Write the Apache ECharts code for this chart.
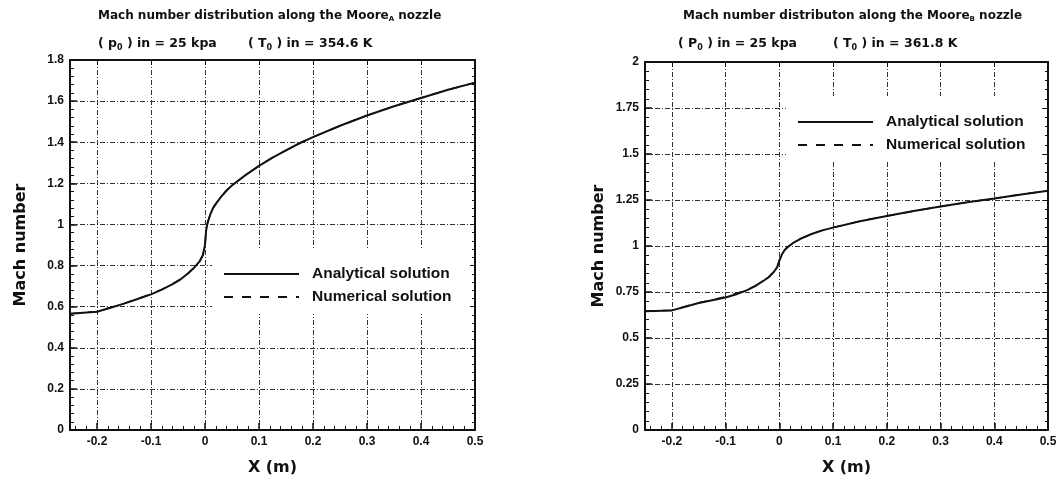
<!DOCTYPE html>
<html>
<head>
<meta charset="utf-8">
<script src="https://cdn.jsdelivr.net/npm/echarts@6/dist/echarts.min.js"></script>
<style>
  html, body { margin: 0; padding: 0; background: #fff; }
  #chart { width: 1061px; height: 481px; }
</style>
</head>
<body>
<div id="chart"></div>
<script>
// Moore A nozzle
const xA = [-0.25, -0.2, -0.175, -0.15, -0.125, -0.1, -0.08, -0.06, -0.045, -0.03, -0.02, -0.01, -0.004, 0, 0.002, 0.005, 0.01, 0.015, 0.02, 0.03, 0.04, 0.05, 0.06, 0.075, 0.1, 0.125, 0.15, 0.175, 0.2, 0.25, 0.3, 0.35, 0.4, 0.45, 0.5];
const machA = [0.565, 0.575, 0.595, 0.615, 0.637, 0.66, 0.683, 0.71, 0.733, 0.765, 0.79, 0.82, 0.85, 0.9, 0.97, 1.01, 1.05, 1.08, 1.1, 1.135, 1.165, 1.19, 1.21, 1.24, 1.285, 1.325, 1.36, 1.395, 1.425, 1.48, 1.53, 1.575, 1.615, 1.655, 1.69];
const machANum = [0.565, 0.576, 0.596, 0.616, 0.638, 0.661, 0.684, 0.711, 0.734, 0.766, 0.791, 0.821, 0.851, 0.9, 0.97, 1.01, 1.05, 1.08, 1.1, 1.135, 1.165, 1.19, 1.21, 1.24, 1.285, 1.325, 1.36, 1.395, 1.425, 1.48, 1.53, 1.575, 1.615, 1.655, 1.69];

// Moore B nozzle
const xB = [-0.25, -0.2, -0.175, -0.15, -0.125, -0.1, -0.08, -0.06, -0.045, -0.03, -0.02, -0.01, -0.004, 0, 0.005, 0.01, 0.015, 0.025, 0.04, 0.06, 0.08, 0.1, 0.15, 0.2, 0.25, 0.3, 0.35, 0.4, 0.45, 0.5];
const machB = [0.645, 0.65, 0.67, 0.69, 0.705, 0.72, 0.738, 0.76, 0.782, 0.81, 0.83, 0.86, 0.885, 0.92, 0.955, 0.978, 0.993, 1.015, 1.04, 1.065, 1.085, 1.1, 1.135, 1.163, 1.19, 1.215, 1.238, 1.258, 1.28, 1.3];
const machBNum = [0.645, 0.651, 0.672, 0.692, 0.708, 0.724, 0.742, 0.762, 0.783, 0.81, 0.83, 0.86, 0.885, 0.92, 0.955, 0.978, 0.993, 1.015, 1.04, 1.065, 1.085, 1.1, 1.135, 1.163, 1.19, 1.215, 1.238, 1.258, 1.28, 1.3];

// tick labels / positions
const majorX = [-0.2, -0.1, 0, 0.1, 0.2, 0.3, 0.4, 0.5];
const minorX = [-0.24, -0.22, -0.18, -0.16, -0.14, -0.12, -0.08, -0.06, -0.04, -0.02,
  0.02, 0.04, 0.06, 0.08, 0.12, 0.14, 0.16, 0.18, 0.22, 0.24, 0.26, 0.28,
  0.32, 0.34, 0.36, 0.38, 0.42, 0.44, 0.46, 0.48];

const font = '"Liberation Sans", Arial, sans-serif';
const wide = '"DejaVu Sans", sans-serif';
const black = '#111';
const gridLine = { color: '#333', width: 1, type: [5, 2, 1, 2] };

const pairs = (xs, ys) => xs.map((x, i) => [x, ys[i]]);

function xAxes(gridIndex) {
  return [
    {
      gridIndex, type: 'value', position: 'bottom', min: -0.25, max: 0.5,
      name: 'X (m)', nameLocation: 'middle', nameGap: 30,
      nameTextStyle: { fontFamily: wide, fontWeight: 'bold', fontSize: 16, color: black },
      axisLine: { onZero: false, lineStyle: { color: black, width: 2 } },
      axisTick: { inside: true, length: 7, customValues: majorX, lineStyle: { color: black, width: 1.5 } },
      axisLabel: {
        customValues: majorX, margin: 6, color: black,
        fontFamily: font, fontWeight: 'bold', fontSize: 12,
        formatter: v => String(Math.round(v * 10) / 10)
      },
      splitLine: { show: true, lineStyle: gridLine }
    },
    {
      gridIndex, type: 'value', position: 'bottom', min: -0.25, max: 0.5,
      axisLine: { show: false, onZero: false },
      axisTick: { inside: true, length: 4, customValues: minorX, lineStyle: { color: black, width: 1 } },
      axisLabel: { show: false },
      splitLine: { show: false }
    },
    {
      gridIndex, type: 'value', position: 'top', min: -0.25, max: 0.5,
      axisLine: { onZero: false, lineStyle: { color: black, width: 2 } },
      axisTick: { inside: true, length: 5, customValues: majorX, lineStyle: { color: black } },
      axisLabel: { show: false },
      splitLine: { show: false }
    }
  ];
}

function yAxes(gridIndex, max, interval, gap) {
  return [
    {
      gridIndex, type: 'value', position: 'left', min: 0, max, interval,
      name: 'Mach number', nameLocation: 'middle', nameGap: gap,
      nameTextStyle: { fontFamily: wide, fontWeight: 'bold', fontSize: 16, color: black },
      axisLine: { show: true, onZero: false, lineStyle: { color: black, width: 2 } },
      axisTick: { inside: true, length: 7, lineStyle: { color: black, width: 1.5 } },
      minorTick: { show: true, splitNumber: 5, length: 4, lineStyle: { color: black, width: 1 } },
      axisLabel: { margin: 6, color: black, fontFamily: font, fontWeight: 'bold', fontSize: 12 },
      splitLine: { show: true, lineStyle: gridLine }
    },
    {
      gridIndex, type: 'value', position: 'right', min: 0, max, interval,
      axisLine: { show: true, onZero: false, lineStyle: { color: black, width: 2 } },
      axisTick: { inside: true, length: 5, lineStyle: { color: black } },
      minorTick: { show: true, splitNumber: 5, length: 3, lineStyle: { color: black } },
      axisLabel: { show: false },
      splitLine: { show: false }
    }
  ];
}

const titleStyle = {
  fontFamily: wide, fontWeight: 'bold', fontSize: 12, color: black,
  rich: { s: { fontFamily: wide, fontWeight: 'bold', fontSize: 7, color: black, padding: [7, 0, 0, 0] } }
};
const subStyle = {
  fontFamily: wide, fontWeight: 'bold', fontSize: 12.5, color: black,
  rich: { s: { fontFamily: wide, fontWeight: 'bold', fontSize: 8, color: black, padding: [8, 0, 0, 0] } }
};

function lineSeries(name, xi, yi, data, dashed) {
  return {
    name, type: 'line', xAxisIndex: xi, yAxisIndex: yi,
    data, symbol: 'none', smooth: false,
    lineStyle: { color: black, width: dashed ? 1.5 : 2, type: dashed ? [9, 9] : 'solid' },
    itemStyle: { color: black },
    z: dashed ? 3 : 2
  };
}

const legendBase = {
  orient: 'vertical', backgroundColor: '#fff',
  itemWidth: 75, itemHeight: 14, itemGap: 7,
  itemStyle: { color: 'rgba(0,0,0,0)', borderWidth: 0 },
  textStyle: { fontFamily: font, fontWeight: 'bold', fontSize: 15.5, color: black, padding: [0, 0, 0, 8] },
  data: ['Analytical solution', 'Numerical solution']
};

const chart = echarts.init(document.getElementById('chart'), null, { renderer: 'canvas' });
chart.setOption({
  animation: false,
  backgroundColor: '#fff',
  title: [
    { text: 'Mach number distribution along the Moore{s|A} nozzle', left: 98, top: 9, padding: 0, textStyle: titleStyle },
    { text: '( p{s|0} ) in = 25 kpa', left: 98, top: 36, padding: 0, textStyle: subStyle },
    { text: '( T{s|0} ) in = 354.6 K', left: 248, top: 36, padding: 0, textStyle: subStyle },
    { text: 'Mach number distributon along the Moore{s|B} nozzle', left: 683, top: 9, padding: 0, textStyle: titleStyle },
    { text: '( P{s|0} ) in = 25 kpa', left: 678, top: 36, padding: 0, textStyle: subStyle },
    { text: '( T{s|0} ) in = 361.8 K', left: 833, top: 36, padding: 0, textStyle: subStyle }
  ],
  grid: [
    { left: 70, right: 586, top: 60, bottom: 51 },
    { left: 645, right: 13, top: 62, bottom: 51 }
  ],
  legend: [
    Object.assign({}, legendBase, { left: 212, top: 248, padding: [18, 17, 9, 11] }),
    Object.assign({}, legendBase, { left: 786, top: 96, padding: [18, 16, 8, 11] })
  ],
  xAxis: xAxes(0).concat(xAxes(1)),
  yAxis: yAxes(0, 1.8, 0.2, 41).concat(yAxes(1, 2, 0.25, 38)),
  series: [
    lineSeries('Analytical solution', 0, 0, pairs(xA, machA), false),
    lineSeries('Numerical solution', 0, 0, pairs(xA, machANum), true),
    lineSeries('Analytical solution', 3, 2, pairs(xB, machB), false),
    lineSeries('Numerical solution', 3, 2, pairs(xB, machBNum), true)
  ]
});
</script>
</body>
</html>
